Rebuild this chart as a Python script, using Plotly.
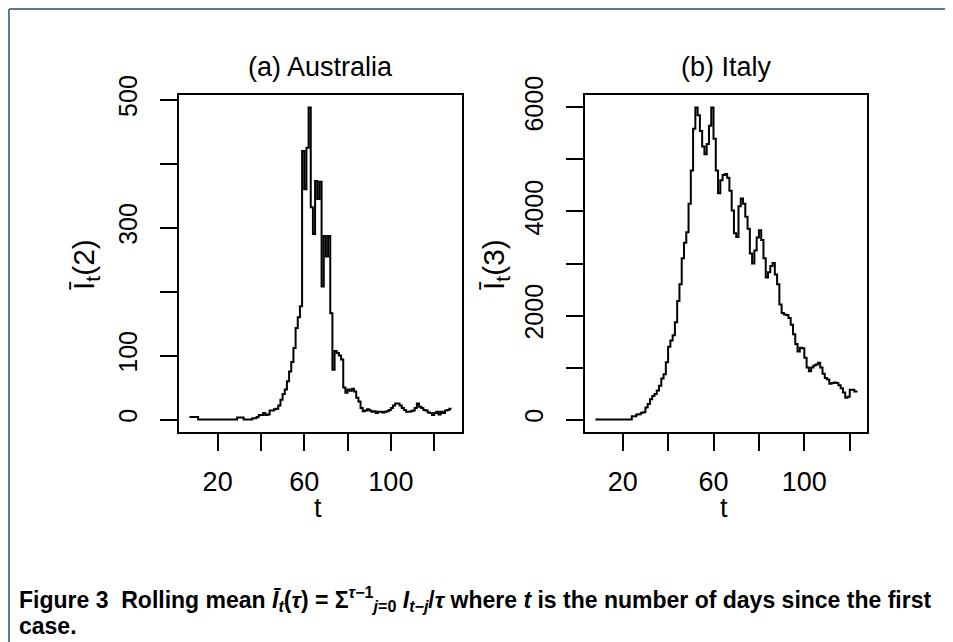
import plotly.graph_objects as go

# the page body adds an 8px margin, so the figure is drawn 8px smaller
# and every target position below is given in page pixels
OFF = 8
W, H = 953 - OFF, 642 - OFF

# Rolling mean (tau=2), Australia, days since first case
aus_start = 7
aus_vals = [4, 4, 4, 4,
            0, 0, 0, 0, 0, 0, 0, 0, 0, 0, 0, 0, 0, 0, 0, 0, 0, 0,
            3, 3, 3, 0, 0, 0, 0,
            2, 2, 4, 7, 7, 10, 7, 8, 14, 14, 16, 17, 22, 31, 40, 47, 60, 75, 90, 112,
            143, 160, 177, 420, 360, 425, 488, 332, 290, 373, 345, 372, 208, 287, 255, 287,
            166, 78, 107, 104, 100, 94, 50, 42, 47, 45, 48, 44, 34, 28, 18, 13,
            14, 16, 14, 12, 13, 10, 12, 12, 11, 12, 13, 15, 18, 22, 25, 25,
            22, 18, 15, 12, 12, 13, 14, 18, 25, 20, 18, 15, 14, 11, 10, 7,
            10, 12, 8, 12, 10, 14, 15, 17, 17]
aus_t = list(range(aus_start, aus_start + len(aus_vals)))

# Rolling mean (tau=3), Italy
ita_start = 8
ita_vals = [0, 0, 0, 0, 0, 0, 0, 0, 0, 0, 0, 0, 0, 0, 0, 0,
            64, 64, 96, 100, 130, 140, 230, 300, 390, 450, 490, 560, 650, 790, 870, 1100,
            1400, 1520, 1620, 1870, 2280, 2600, 3100, 3400, 3600, 4150, 4790, 5590, 6000, 5850, 5550, 5250,
            5100, 5300, 5650, 6000, 5400, 4790, 4350, 4600, 4700, 4720, 4650, 4400, 4020, 3580, 3510, 4100,
            4250, 4150, 3900, 3670, 3190, 3000, 3250, 3500, 3640, 3450, 3100, 2730, 2830, 2950, 3010, 2790,
            2600, 2210, 2050, 2020, 2010, 1950, 1820, 1640, 1450, 1310, 1380, 1370, 1190, 1000, 930, 1000,
            1040, 1060, 1090, 1000, 880, 800, 770, 690, 700, 710, 700, 660, 600, 520, 420, 440,
            570, 570, 540, 520]
ita_t = list(range(ita_start, ita_start + len(ita_vals)))

x_ticks = [20, 40, 60, 80, 100, 120]
x_labels = ["20", "", "60", "", "100", ""]
aus_yticks = [0, 100, 200, 300, 400, 500]
aus_ylabels = ["0", "100", "", "300", "", "500"]
ita_yticks = [0, 1000, 2000, 3000, 4000, 5000, 6000]
ita_ylabels = ["0", "", "2000", "", "4000", "", "6000"]

FONT = "Liberation Sans, Arial, sans-serif"


def rrange(v):
    # R style 4% padding
    lo, hi = min(v), max(v)
    d = (hi - lo) * 0.04
    return [lo - d, hi + d]


def px_x(p):
    return (p - OFF) / W


def px_y(p):
    return 1 - (p - OFF) / H


fig = go.Figure()
fig.add_trace(go.Scatter(x=aus_t, y=aus_vals, mode="lines", line=dict(color="black", width=2, shape="hv"),
                         xaxis="x", yaxis="y", showlegend=False))
fig.add_trace(go.Scatter(x=ita_t, y=ita_vals, mode="lines", line=dict(color="black", width=2, shape="hv"),
                         xaxis="x2", yaxis="y2", showlegend=False))

common_x = dict(showgrid=False, zeroline=False, showline=True, mirror=True, linecolor="black", linewidth=2,
                ticks="outside", ticklen=17, tickwidth=2, tickcolor="black", automargin=False,
                tickvals=x_ticks, ticktext=x_labels, ticklabelstandoff=8,
                tickfont=dict(family=FONT, size=27, color="black"))
common_y = dict(showgrid=False, zeroline=False, showline=True, mirror=True, linecolor="black", linewidth=2,
                ticks="outside", ticklen=17, tickwidth=2, tickcolor="black", tickangle=-90, automargin=False,
                ticklabelstandoff=13, tickfont=dict(family=FONT, size=25, color="black"))

ydom = [px_y(432), px_y(95)]
fig.update_layout(
    width=W, height=H,
    margin=dict(l=0, r=0, t=0, b=0, pad=0),
    paper_bgcolor="white", plot_bgcolor="white",
    xaxis=dict(domain=[px_x(179), px_x(462)], range=rrange(aus_t), anchor="y", **common_x),
    yaxis=dict(domain=ydom, range=rrange(aus_vals), anchor="x",
               tickvals=aus_yticks, ticktext=aus_ylabels, **common_y),
    xaxis2=dict(domain=[px_x(585), px_x(867)], range=rrange(ita_t), anchor="y2", **common_x),
    yaxis2=dict(domain=ydom, range=rrange(ita_vals), anchor="x2",
                tickvals=ita_yticks, ticktext=ita_ylabels, **common_y),
)

anns = [
    dict(text="(a) Australia", x=px_x(320), y=px_y(67), size=27),
    dict(text="(b) Italy", x=px_x(726), y=px_y(67), size=27),
    dict(text="t", x=px_x(318), y=px_y(508), size=27),
    dict(text="t", x=px_x(724), y=px_y(508), size=27),
]
for a in anns:
    fig.add_annotation(text=a["text"], x=a["x"], y=a["y"], xref="paper", yref="paper",
                       showarrow=False, xanchor="center", yanchor="middle",
                       font=dict(family=FONT, size=a["size"], color="black"))

for txt, xp in [("Ī<sub>t</sub>(2)", 86), ("Ī<sub>t</sub>(3)", 496)]:
    fig.add_annotation(text=txt, x=px_x(xp), y=px_y(265), xref="paper", yref="paper",
                       showarrow=False, textangle=-90, xanchor="center", yanchor="middle",
                       font=dict(family=FONT, size=30, color="black"))

cap1 = ("<b>Figure 3  Rolling mean <i>Ī<sub>t</sub></i>(<i>τ</i>) = Σ<sup><i>τ</i>−1</sup><sub><i>j</i>=0</sub> "
        "<i>I<sub>t−j</sub></i>/<i>τ</i> where <i>t</i> is the number of days since the first</b>")
cap2 = "<b>case.</b>"
for txt, yp in [(cap1, 599), (cap2, 626)]:
    fig.add_annotation(text=txt, x=px_x(17), y=px_y(yp), xref="paper", yref="paper",
                       showarrow=False, xanchor="left", yanchor="middle", align="left",
                       font=dict(family=FONT, size=23, color="black"))

# page frame (as close to the top-left corner as the page allows)
frame = "#5f7894"
fig.add_shape(type="line", xref="paper", yref="paper", x0=px_x(9), x1=1, y0=px_y(9), y1=px_y(9),
              line=dict(color=frame, width=2))
fig.add_shape(type="line", xref="paper", yref="paper", x0=px_x(9), x1=px_x(9), y0=0, y1=px_y(9),
              line=dict(color=frame, width=2))

fig.write_html("out.html")
